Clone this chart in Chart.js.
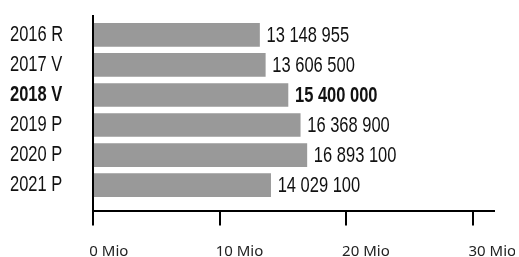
<!DOCTYPE html>
<html>
<head>
<meta charset="utf-8">
<script src="https://cdn.jsdelivr.net/npm/chart.js@4/dist/chart.umd.min.js"></script>
<style>
	body{margin:0;background:#fff;}
	canvas{display:block;}
</style>
</head>
<body>
<canvas id="chart" width="519" height="257"></canvas>
<script>
var categories=["2016 R","2017 V","2018 V","2019 P","2020 P","2021 P"];
var values=[13148955,13606500,15400000,16368900,16893100,14029100];
var xTicks=[0,10000000,20000000,30000000];
var boldLabel="2018 V";

// no condensed face installed, so Liberation Sans gets squeezed sideways
var narrow='"Liberation Sans",Arial,sans-serif';
var squeezeX=0.75;
var barColor="#999999";
var textColor="#111111";

function fmt(v){
	return String(v).replace(/\B(?=(\d{3})+(?!\d))/g," ");
}

// value text next to each bar
var valueLabels={
	id:"valueLabels",
	afterDatasetsDraw:function(chart){
		var ctx=chart.ctx;
		var meta=chart.getDatasetMeta(0);
		meta.data.forEach(function(bar,i){
			var bold=categories[i]==boldLabel;
			var x=bar.x+7;
			ctx.save();
			ctx.fillStyle=textColor;
			ctx.textBaseline="middle";
			ctx.textAlign="left";
			ctx.font=(bold?"bold ":"")+"22px "+narrow;
			ctx.translate(x,0);
			ctx.scale(squeezeX,1);
			ctx.fillText(fmt(values[i]),0,bar.y+1);
			ctx.restore();
		});
	}
};

// squeeze the category labels, nudge the x labels left of their ticks
var axisText={
	id:"axisText",
	beforeDraw:function(chart){
		var y=chart.scales.y,x=chart.scales.x;
		if(!y._patched){
			var yDraw=y.drawLabels;
			y.drawLabels=function(area){
				var ctx=this.ctx;
				ctx.save();
				ctx.translate(this.left,0);
				ctx.scale(squeezeX,1);
				ctx.translate(-this.left,0);
				yDraw.call(this,area);
				ctx.restore();
			};
			y._patched=true;
		}
		if(!x._patched){
			var xDraw=x.drawLabels;
			x.drawLabels=function(area){
				this.ctx.save();
				this.ctx.translate(-4,0);
				xDraw.call(this,area);
				this.ctx.restore();
			};
			x._patched=true;
		}
	}
};

var points=[];
for(var i=0;i<values.length;i++){
	points.push({x:values[i],y:i});
}

new Chart("chart",{
	type:"bar",
	data:{
		datasets:[{
			data:points,
			backgroundColor:barColor,
			barThickness:23
		}]
	},
	options:{
		indexAxis:"y",
		responsive:false,
		animation:false,
		layout:{padding:{left:10,top:13,right:25,bottom:0}},
		plugins:{legend:{display:false},tooltip:{enabled:false}},
		scales:{
			x:{
				type:"linear",
				min:0,
				max:31700000,
				afterBuildTicks:function(scale){
					scale.ticks=xTicks.map(function(v){return {value:v};});
				},
				afterFit:function(scale){
					scale.height=46.5;
					scale.paddingLeft=0;
					scale.paddingRight=0;
				},
				grid:{drawOnChartArea:false,drawTicks:true,tickLength:15,color:"#000",lineWidth:2},
				border:{display:true,color:"#000",width:2},
				ticks:{
					align:"start",
					padding:17,
					color:"#222",
					font:{family:'"Noto Sans",sans-serif',size:15},
					callback:function(v){return (v/1000000)+" Mio";}
				}
			},
			y:{
				type:"linear",
				reverse:true,
				offset:false,
				min:-0.622,
				max:5.845,
				afterBuildTicks:function(scale){
					scale.ticks=categories.map(function(c,i){return {value:i};});
				},
				afterFit:function(scale){
					scale.width=83.3;
				},
				grid:{display:false},
				border:{display:true,color:"#000",width:2},
				ticks:{
					crossAlign:"far",
					color:textColor,
					font:function(c){
						var bold=c.tick&&categories[c.tick.value]==boldLabel;
						return {family:narrow,size:22,weight:bold?"bold":"normal"};
					},
					callback:function(v){return categories[v];}
				}
			}
		}
	},
	plugins:[valueLabels,axisText]
});
</script>
</body>
</html>
